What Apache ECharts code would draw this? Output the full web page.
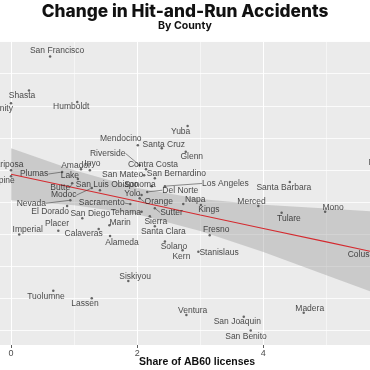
<!DOCTYPE html>
<html><head><meta charset="utf-8">
<script src="https://cdn.jsdelivr.net/npm/echarts@6/dist/echarts.min.js"></script>
<style>html,body{margin:0;padding:0;background:#fff}#c{width:370px;height:370px}</style>
</head><body><div id="c"></div>
<script>
// ---- data ----
const counties = ["San Francisco","Shasta","Trinity","Humboldt","Mendocino","Santa Cruz","Yuba","Glenn","Riverside","Contra Costa","San Mateo","San Bernardino","Los Angeles","Amador","Inyo","Mariposa","Alpine","Plumas","Lake","Butte","Modoc","San Luis Obispo","Nevada","El Dorado","Sacramento","San Diego","Tehama","Imperial","Placer","Calaveras","Marin","Alameda","Sierra","Santa Clara","Solano","Kern","Stanislaus","Fresno","Kings","Napa","Sutter","Orange","Yolo","Sonoma","Del Norte","Santa Barbara","Merced","Tulare","Mono","Colusa","Monterey","Madera","San Joaquin","San Benito","Ventura","Siskiyou","Tuolumne","Lassen"];
const share = [0.62,0.285,0,1.05,2.01,2.39,2.80,2.77,2.04,2.14,2.11,2.28,2.44,1.11,1.25,0,0,0.81,1.06,0.97,1.28,1.41,0.94,0.89,1.89,1.13,2.07,0.13,0.75,1.39,1.56,1.57,2.20,2.28,2.44,2.72,2.97,3.15,3.01,2.73,2.28,2.04,2.07,2.23,2.16,4.42,3.92,4.29,4.98,5.80,5.90,4.64,3.69,3.80,2.78,1.86,0.67,1.28];
const change = [8.54,7.48,7.08,7.12,5.77,5.67,6.37,5.56,5.14,5.02,4.83,4.74,4.49,5.02,4.99,4.99,4.80,4.93,4.71,4.58,4.43,4.36,4.05,3.87,3.93,3.49,3.69,2.98,3.10,3.15,3.27,2.93,3.55,3.24,2.76,2.49,2.44,2.96,3.90,3.93,3.80,4.11,4.21,4.49,4.31,4.62,3.87,3.66,3.69,2.56,5.00,0.54,0.41,-0.02,0.47,1.53,1.22,0.99];
const fitX = [0,1,2,3,4,5,5.9];
const fitY = [4.86,4.44,4.02,3.59,3.17,2.75,2.37];
const bandLow = [4.05,3.89,3.61,3.09,2.43,1.71,1.06];
const bandHigh = [5.67,4.99,4.43,4.09,3.91,3.79,3.68];
const xTickLabels = [0,2,4];

// ---- label layout (pixel offsets of each label from its point) ----
const labelOffsets = {
 "San Francisco":[7,-6],"Shasta":[-7,5],"Trinity":[-9.5,5],"Humboldt":[-6,5],"Mendocino":[-17,-6],
 "Santa Cruz":[2,-4],"Yuba":[-7,6],"Glenn":[6,5],"Riverside":[-32,-12],"Contra Costa":[7,-5],
 "San Mateo":[-21.5,-1],"San Bernardino":[21.5,-4.7],"Los Angeles":[60.5,-2.7],"Amador":[-5,-4],"Inyo":[2.5,-6],
 "Mariposa":[-5,-5],"Alpine":[-8,4],"Plumas":[-28,2],"Lake":[-8,-3],"Butte":[-12,4],"Modoc":[-28,7],
 "San Luis Obispo":[7,-6],"Nevada":[-39,3],"El Dorado":[-17,6],"Sacramento":[-28.5,-1],"San Diego":[8,-5],
 "Tehama":[-15.7,1.3],"Imperial":[8.5,-5.3],"Placer":[-1.3,-6.7],"Calaveras":[-15,5],"Marin":[10.7,-2.3],
 "Alameda":[12,6.7],"Sierra":[6,5],"Santa Clara":[8.5,5.7],"Solano":[9,5.5],"Kern":[-1.2,6.7],
 "Stanislaus":[20.7,0.6],"Fresno":[6.5,-5],"Kings":[8,5],"Napa":[12,-4],"Sutter":[16.7,4.3],"Orange":[19,3.7],
 "Yolo":[-9.2,-1],"Sonoma":[-11.7,-1],"Del Norte":[33,-1.7],"Santa Barbara":[-6,5.6],"Merced":[-6.8,-4],
 "Tulare":[7.3,6.3],"Mono":[8,-4.4],"Colusa":[-16,7],"Monterey":[3,-7],"Madera":[6,-4.4],"San Joaquin":[-6.5,5],
 "San Benito":[-4.7,6],"Ventura":[6.3,-4],"Siskiyou":[6.7,-4.3],"Tuolumne":[-7.3,6],"Lassen":[-6.7,5]
};
const withLeader = ["Riverside","Los Angeles","Plumas","Modoc","Nevada","Sacramento","Sutter","Orange","Del Norte","Butte"];

const pts = counties.map((n,i)=>({name:n, value:[share[i], change[i]]}));
const ptsPlain = pts.filter(p=>withLeader.indexOf(p.name)<0);
const ptsLead = pts.filter(p=>withLeader.indexOf(p.name)>=0);

function scatterSeries(data, lead){
  return {
    type:'scatter', data:data, symbolSize:2.5, z:5, clip:false,
    itemStyle:{color:'#444'},
    label:{show:true, position:'inside', formatter:'{b}', fontSize:8.5, color:'#1a1a1a',
           fontFamily:'Liberation Sans, Arial, sans-serif'},
    labelLine:{show:lead, lineStyle:{color:'#444', width:0.6}},
    labelLayout:function(p){ const o = labelOffsets[data[p.dataIndex].name]; return {dx:o[0], dy:o[1]}; },
    emphasis:{disabled:true}, silent:true
  };
}

const chart = echarts.init(document.getElementById('c'), null, {renderer:'canvas'});
chart.setOption({
  animation:false,
  title:{text:'Change in Hit-and-Run Accidents', subtext:'By County', left:'center', top:-2, itemGap:0,
    textStyle:{fontFamily:'Inter, sans-serif', fontWeight:800, fontSize:17.3, color:'#111'},
    subtextStyle:{fontFamily:'Inter, sans-serif', fontWeight:700, fontSize:10.6, color:'#111'}},
  grid:{left:-7.6, right:-31.8, top:41.7, bottom:25, show:true, backgroundColor:'#EBEBEB', borderWidth:0,
    containLabel:false, outerBoundsMode:'none'},
  xAxis:{type:'value', min:-0.295, max:6.195, splitNumber:3, minInterval:2, maxInterval:2,
    name:'Share of AB60 licenses', nameLocation:'middle', nameGap:12, nameMoveOverlap:false,
    nameTextStyle:{fontFamily:'Liberation Sans, Arial, sans-serif', fontWeight:'bold', fontSize:10.5, color:'#111'},
    axisLine:{show:false, onZero:false},
    axisTick:{show:true, length:3, customValues:xTickLabels, lineStyle:{color:'#333', width:0.8}},
    axisLabel:{customValues:xTickLabels, fontSize:9, color:'#4d4d4d', margin:4, fontFamily:'Liberation Sans, Arial, sans-serif'},
    splitLine:{show:true, lineStyle:{color:'#ffffff', width:1}},
    minorTick:{show:false, splitNumber:2},
    minorSplitLine:{show:true, lineStyle:{color:'#ffffff', width:0.5}}
  },
  yAxis:{type:'value', min:-0.47, max:9, splitNumber:9, minInterval:1, maxInterval:1,
    axisLine:{show:false}, axisTick:{show:false}, axisLabel:{show:false},
    splitLine:{show:true, lineStyle:{color:'#ffffff', width:0.8}}
  },
  series:[
    {type:'custom', data:fitX.map((x,i)=>[x,fitY[i]]), silent:true, z:1,
      renderItem:function(params, api){
        if (params.dataIndex !== 0) return null;
        const poly = [];
        for (let i=0;i<fitX.length;i++) poly.push(api.coord([fitX[i], bandHigh[i]]));
        for (let i=fitX.length-1;i>=0;i--) poly.push(api.coord([fitX[i], bandLow[i]]));
        return {type:'polygon', shape:{points:poly}, style:{fill:'rgba(153,153,153,0.4)'}};
      }},
    {type:'line', data:fitX.map((x,i)=>[x,fitY[i]]), symbol:'none', lineStyle:{color:'#d42a2f', width:1.1}, silent:true, z:2},
    scatterSeries(ptsPlain,false),
    scatterSeries(ptsLead,true)
  ]
});
</script>
</body></html>
